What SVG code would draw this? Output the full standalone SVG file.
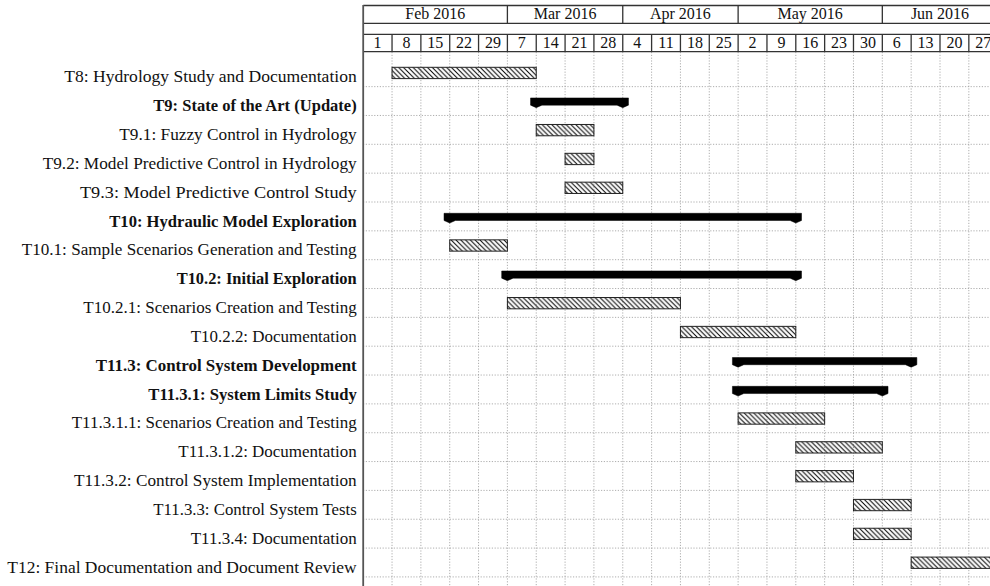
<svg xmlns="http://www.w3.org/2000/svg" width="990" height="586" viewBox="0 0 990 586">
<defs>
<pattern id="hatch" patternUnits="userSpaceOnUse" width="4.8" height="4.8">
<path d="M0,0 L4.8,4.8 M-1.2,3.6 L1.2,6 M3.6,-1.2 L6,1.2" stroke="#000" stroke-width="1"/>
</pattern>
</defs>
<style>
.lbl{font-family:"Liberation Serif","Times New Roman",serif;font-size:17.5px;fill:#111;text-anchor:end}
.b{font-weight:bold}
.hd{font-family:"Liberation Serif","Times New Roman",serif;font-size:16px;fill:#111;text-anchor:middle}
.hl{stroke:#333;stroke-width:1.3;fill:none}
.grid{stroke:#999;stroke-width:0.8;stroke-dasharray:1.2 1.6;fill:none}
.task{fill:url(#hatch);stroke:#222;stroke-width:1}
.grp{fill:#000;stroke:#000;stroke-width:0.5}
</style>
<rect width="990" height="586" fill="#fff"/>
<g id="grid">
<path class="grid" d="M392.04,52V586 M420.88,52V586 M449.72,52V586 M478.56,52V586 M507.4,52V586 M536.24,52V586 M565.08,52V586 M593.92,52V586 M622.76,52V586 M651.6,52V586 M680.44,52V586 M709.28,52V586 M738.12,52V586 M766.96,52V586 M795.8,52V586 M824.64,52V586 M853.48,52V586 M882.32,52V586 M911.16,52V586 M940,52V586 M968.84,52V586"/>
<path class="grid" d="M363,86.64H990 M363,115.48H990 M363,144.32H990 M363,173.16H990 M363,202H990 M363,230.84H990 M363,259.68H990 M363,288.52H990 M363,317.36H990 M363,346.2H990 M363,375.04H990 M363,403.88H990 M363,432.72H990 M363,461.56H990 M363,490.4H990 M363,519.24H990 M363,548.08H990 M363,576.92H990"/>
</g>
<g id="header">
<path class="hl" d="M363.2,5.5H990 M363.2,23.3H990 M507.4,5.5V23.3 M622.76,5.5V23.3 M738.12,5.5V23.3 M882.32,5.5V23.3"/>
<path class="hl" d="M363.2,34.3H990 M363.2,51.7H990 M392.04,34.3V51.7 M420.88,34.3V51.7 M449.72,34.3V51.7 M478.56,34.3V51.7 M507.4,34.3V51.7 M536.24,34.3V51.7 M565.08,34.3V51.7 M593.92,34.3V51.7 M622.76,34.3V51.7 M651.6,34.3V51.7 M680.44,34.3V51.7 M709.28,34.3V51.7 M738.12,34.3V51.7 M766.96,34.3V51.7 M795.8,34.3V51.7 M824.64,34.3V51.7 M853.48,34.3V51.7 M882.32,34.3V51.7 M911.16,34.3V51.7 M940,34.3V51.7 M968.84,34.3V51.7"/>
<text class="hd" x="435.3" y="19.3">Feb 2016</text>
<text class="hd" x="565.1" y="19.3">Mar 2016</text>
<text class="hd" x="680.4" y="19.3">Apr 2016</text>
<text class="hd" x="810.2" y="19.3">May 2016</text>
<text class="hd" x="940" y="19.3">Jun 2016</text>
<text class="hd" x="377.6" y="48.3">1</text>
<text class="hd" x="406.5" y="48.3">8</text>
<text class="hd" x="435.3" y="48.3">15</text>
<text class="hd" x="464.1" y="48.3">22</text>
<text class="hd" x="493" y="48.3">29</text>
<text class="hd" x="521.8" y="48.3">7</text>
<text class="hd" x="550.7" y="48.3">14</text>
<text class="hd" x="579.5" y="48.3">21</text>
<text class="hd" x="608.3" y="48.3">28</text>
<text class="hd" x="637.2" y="48.3">4</text>
<text class="hd" x="666" y="48.3">11</text>
<text class="hd" x="694.9" y="48.3">18</text>
<text class="hd" x="723.7" y="48.3">25</text>
<text class="hd" x="752.5" y="48.3">2</text>
<text class="hd" x="781.4" y="48.3">9</text>
<text class="hd" x="810.2" y="48.3">16</text>
<text class="hd" x="839.1" y="48.3">23</text>
<text class="hd" x="867.9" y="48.3">30</text>
<text class="hd" x="896.7" y="48.3">6</text>
<text class="hd" x="925.6" y="48.3">13</text>
<text class="hd" x="954.4" y="48.3">20</text>
<text class="hd" x="983.3" y="48.3">27</text>
<path d="M363.2,5V586" stroke="#555" stroke-width="1.8"/>
</g>
<g id="connectors"/>
<g id="t8"><text class="lbl" x="356.7" y="82.3" textLength="292.4" lengthAdjust="spacingAndGlyphs">T8: Hydrology Study and Documentation</text><rect class="task" x="392.04" y="67.3" width="144.2" height="11.3"/></g>
<g id="t9"><text class="lbl b" x="356.7" y="111.1" textLength="203.4" lengthAdjust="spacingAndGlyphs">T9: State of the Art (Update)</text><path class="grp" d="M530.54,97.94H628.46V105.14L622.76,107.64L617.06,105.14H541.94L536.24,107.64L530.54,105.14Z"/></g>
<g id="t9-1"><text class="lbl" x="356.7" y="140" textLength="237.4" lengthAdjust="spacingAndGlyphs">T9.1: Fuzzy Control in Hydrology</text><rect class="task" x="536.24" y="124.48" width="57.68" height="11.3"/></g>
<g id="t9-2"><text class="lbl" x="356.7" y="168.8" textLength="314" lengthAdjust="spacingAndGlyphs">T9.2: Model Predictive Control in Hydrology</text><rect class="task" x="565.08" y="153.32" width="28.84" height="11.3"/></g>
<g id="t9-3"><text class="lbl" x="356.7" y="197.7" textLength="276.7" lengthAdjust="spacingAndGlyphs">T9.3: Model Predictive Control Study</text><rect class="task" x="565.08" y="182.16" width="57.68" height="11.3"/></g>
<g id="t10"><text class="lbl b" x="356.7" y="226.5" textLength="247.4" lengthAdjust="spacingAndGlyphs">T10: Hydraulic Model Exploration</text><path class="grp" d="M444.02,213.3H801.5V220.5L795.8,223L790.1,220.5H455.42L449.72,223L444.02,220.5Z"/></g>
<g id="t10-1"><text class="lbl" x="356.7" y="255.3" textLength="335" lengthAdjust="spacingAndGlyphs">T10.1: Sample Scenarios Generation and Testing</text><rect class="task" x="449.72" y="239.84" width="57.68" height="11.3"/></g>
<g id="t10-2"><text class="lbl b" x="356.7" y="284.2" textLength="180" lengthAdjust="spacingAndGlyphs">T10.2: Initial Exploration</text><path class="grp" d="M501.7,270.98H801.5V278.18L795.8,280.68L790.1,278.18H513.1L507.4,280.68L501.7,278.18Z"/></g>
<g id="t10-2-1"><text class="lbl" x="356.7" y="313" textLength="273.4" lengthAdjust="spacingAndGlyphs">T10.2.1: Scenarios Creation and Testing</text><rect class="task" x="507.4" y="297.52" width="173.04" height="11.3"/></g>
<g id="t10-2-2"><text class="lbl" x="356.7" y="341.9" textLength="166" lengthAdjust="spacingAndGlyphs">T10.2.2: Documentation</text><rect class="task" x="680.44" y="326.36" width="115.36" height="11.3"/></g>
<g id="t11-3"><text class="lbl b" x="356.7" y="370.7" textLength="261" lengthAdjust="spacingAndGlyphs">T11.3: Control System Development</text><path class="grp" d="M732.42,357.5H916.86V364.7L911.16,367.2L905.46,364.7H743.82L738.12,367.2L732.42,364.7Z"/></g>
<g id="t11-3-1"><text class="lbl b" x="356.7" y="399.5" textLength="208.4" lengthAdjust="spacingAndGlyphs">T11.3.1: System Limits Study</text><path class="grp" d="M732.42,386.34H888.02V393.54L882.32,396.04L876.62,393.54H743.82L738.12,396.04L732.42,393.54Z"/></g>
<g id="t11-3-1-1"><text class="lbl" x="356.7" y="428.4" textLength="285" lengthAdjust="spacingAndGlyphs">T11.3.1.1: Scenarios Creation and Testing</text><rect class="task" x="738.12" y="412.88" width="86.52" height="11.3"/></g>
<g id="t11-3-1-2"><text class="lbl" x="356.7" y="457.2" textLength="178.4" lengthAdjust="spacingAndGlyphs">T11.3.1.2: Documentation</text><rect class="task" x="795.8" y="441.72" width="86.52" height="11.3"/></g>
<g id="t11-3-2"><text class="lbl" x="356.7" y="486.1" textLength="282.7" lengthAdjust="spacingAndGlyphs">T11.3.2: Control System Implementation</text><rect class="task" x="795.8" y="470.56" width="57.68" height="11.3"/></g>
<g id="t11-3-3"><text class="lbl" x="356.7" y="514.9" textLength="203.4" lengthAdjust="spacingAndGlyphs">T11.3.3: Control System Tests</text><rect class="task" x="853.48" y="499.4" width="57.68" height="11.3"/></g>
<g id="t11-3-4"><text class="lbl" x="356.7" y="543.7" textLength="166" lengthAdjust="spacingAndGlyphs">T11.3.4: Documentation</text><rect class="task" x="853.48" y="528.24" width="57.68" height="11.3"/></g>
<g id="t12"><text class="lbl" x="356.7" y="572.6" textLength="349.4" lengthAdjust="spacingAndGlyphs">T12: Final Documentation and Document Review</text><rect class="task" x="911.16" y="557.08" width="100" height="11.3"/></g>
</svg>
